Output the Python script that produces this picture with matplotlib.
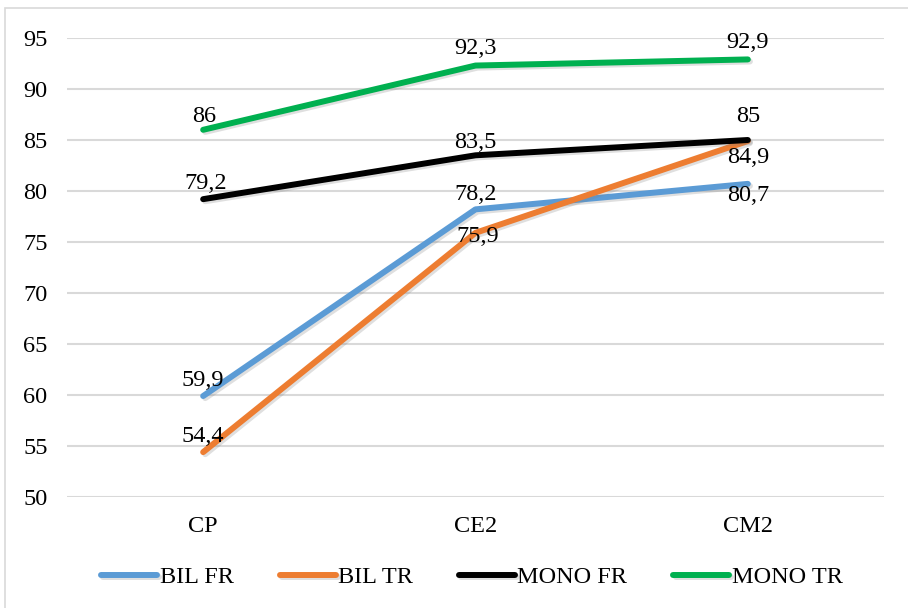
import matplotlib.pyplot as plt
import matplotlib.patheffects as pe
from matplotlib.patches import Rectangle

# Data
categories = ['CP', 'CE2', 'CM2']
bil_fr = [59.9, 78.2, 80.7]
bil_tr = [54.4, 75.9, 84.9]
mono_fr = [79.2, 83.5, 85.0]
mono_tr = [86.0, 92.3, 92.9]
series_names = ['BIL FR', 'BIL TR', 'MONO FR', 'MONO TR']
y_ticks = [50, 55, 60, 65, 70, 75, 80, 85, 90, 95]

colors = ['#5B9BD5', '#ED7D31', '#000000', '#00B050']
# data label offsets (points) per series, per category
lab_off = [
    [(0, 11.5), (0, 11), (0, -8.6)],
    [(0, 11), (1.5, -3), (0, -12)],
    [(2, 11.5), (0, 9.5), (0, 17)],
    [(1, 9.4), (0, 12), (0, 12)],
]

plt.rcParams['font.family'] = ['Liberation Serif', 'DejaVu Serif']
fs = 17.5

fig = plt.figure(figsize=(9.08, 6.08), dpi=100)
fig.patches.append(Rectangle((5 / 908, -0.1), 1.2, 1 - 8 / 608 + 0.1, transform=fig.transFigure,
                             fill=False, edgecolor='#D9D9D9', linewidth=1.2))
ax = fig.add_axes([67 / 908, 1 - 497 / 608, 817 / 908, 459 / 608])

x = range(len(categories))
data = [bil_fr, bil_tr, mono_fr, mono_tr]
shadow = [pe.SimpleLineShadow(offset=(1.5, -1.5), alpha=0.25, shadow_color='gray'), pe.Normal()]
for i, vals in enumerate(data):
    ax.plot(x, vals, color=colors[i], linewidth=4.3, solid_capstyle='round',
            solid_joinstyle='round', label=series_names[i], path_effects=shadow, zorder=3)
    for j, v in enumerate(vals):
        txt = ('%g' % v).replace('.', ',')
        dx, dy = lab_off[i][j]
        ax.annotate(txt, (j, v), xytext=(dx, dy), textcoords='offset points',
                    ha='center', va='center', fontsize=fs, zorder=4)

ax.set_xlim(-0.5, 2.5)
ax.set_ylim(50, 95)
ax.set_yticks(y_ticks)
ax.set_xticks(list(x))
ax.set_xticklabels(categories)
ax.tick_params(axis='both', length=0, labelsize=fs)
ax.tick_params(axis='x', pad=14)
ax.tick_params(axis='y', pad=14)
ax.grid(axis='y', color='#D9D9D9', linewidth=1.5)
ax.set_axisbelow(True)
for s in ax.spines.values():
    s.set_visible(False)

fig.legend(loc='center', bbox_to_anchor=(472 / 908, 1 - 577 / 608), ncol=4, frameon=False,
           fontsize=fs, handlelength=2.3, handletextpad=0.1, columnspacing=1.9)

plt.savefig('out.png', dpi=100)
